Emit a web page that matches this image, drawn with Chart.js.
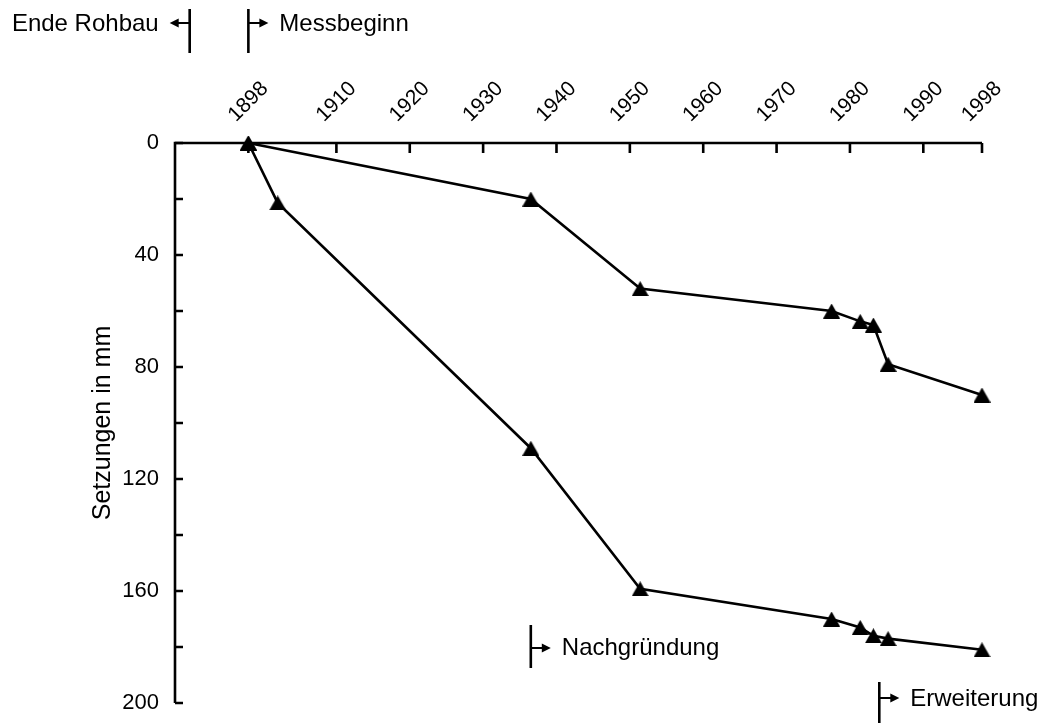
<!DOCTYPE html>
<html>
<head>
<meta charset="utf-8">
<title>Setzungen</title>
<script src="https://cdn.jsdelivr.net/npm/chart.js@4/dist/chart.umd.min.js"></script>
<style>
  html, body { margin: 0; padding: 0; background: #fff; }
  #wrap { width: 1044px; height: 723px; }
</style>
</head>
<body>
<div id="wrap"><canvas id="setzungChart" width="1044" height="723"></canvas></div>
<script>
// Messreihe oben / unten: Jahr der Messung und Setzung in mm
const jahreOben = [1898, 1936.5, 1951.4, 1977.5, 1981.4, 1983.2, 1985.2, 1998];
const setzungOben = [0, 20, 52, 60, 63.7, 65, 79, 90];
const jahreUnten = [1898, 1902, 1936.5, 1951.4, 1977.5, 1981.4, 1983.2, 1985.2, 1998];
const setzungUnten = [0, 21.4, 109, 159.2, 170, 173, 176, 177, 181];

// Achsenbeschriftung
const jahrTicks = [1898, 1910, 1920, 1930, 1940, 1950, 1960, 1970, 1980, 1990, 1998];
const mmTicks = [0, 40, 80, 120, 160, 200];
const mmTicksKlein = [20, 60, 100, 140, 180];

// Ereignisse (Markierung mit Pfeil)
const ereignisse = ["Ende Rohbau", "Messbeginn", "Nachgründung", "Erweiterung"];
const ereignisJahre = [1890, 1898, 1936.5, 1984];

const SCHRIFT = "'Liberation Sans', Arial, Helvetica, sans-serif";
Chart.defaults.font.family = SCHRIFT;
Chart.defaults.color = "#000";

// gefülltes Dreieck als Punktsymbol (auf Bounding-Box zentriert)
function dreieck() {
  const c = document.createElement("canvas");
  const w = 17, h = 15;
  c.width = w; c.height = h;
  const g = c.getContext("2d");
  g.beginPath();
  g.moveTo(w / 2, 0);
  g.lineTo(w, h);
  g.lineTo(0, h);
  g.closePath();
  g.fillStyle = "#000";
  g.fill();
  return c;
}
const symbol = dreieck();

function punkte(jahre, werte) {
  return jahre.map((j, i) => ({ x: j, y: werte[i] }));
}

function reihe(daten) {
  return {
    data: daten,
    borderColor: "#000",
    borderWidth: 2.6,
    pointStyle: symbol,
    tension: 0,
    fill: false,
    clip: false
  };
}

function pfeil(ctx, x0, x1, y) {
  const dir = Math.sign(x1 - x0);
  ctx.lineWidth = 2;
  ctx.beginPath();
  ctx.moveTo(x0, y);
  ctx.lineTo(x1 - dir * 6, y);
  ctx.stroke();
  ctx.beginPath();
  ctx.moveTo(x1, y);
  ctx.lineTo(x1 - dir * 9, y - 4.5);
  ctx.lineTo(x1 - dir * 9, y + 4.5);
  ctx.closePath();
  ctx.fill();
}

// Lage der Ereignis-Markierungen (Strich oben/unten, Pfeilhöhe, Grundlinie Text, Richtung)
const ereignisLage = [
  { y0: 9, y1: 53, ya: 23, yt: 31, dir: -1 },
  { y0: 9, y1: 53, ya: 23, yt: 31, dir: 1 },
  { y0: 625, y1: 668, ya: 648, yt: 655, dir: 1 },
  { y0: 682, y1: 726, ya: 698, yt: 706, dir: 1 }
];

const achsenPlugin = {
  id: "achsen",
  beforeDatasetsDraw(chart) {
    const { ctx, chartArea, scales: { x, y } } = chart;
    ctx.save();
    ctx.strokeStyle = "#000";
    ctx.lineWidth = 2.6;
    ctx.lineJoin = "miter";
    // Achsenlinien links und oben
    ctx.beginPath();
    ctx.moveTo(chartArea.left, chartArea.bottom);
    ctx.lineTo(chartArea.left, chartArea.top);
    ctx.lineTo(chartArea.right, chartArea.top);
    ctx.stroke();
    // Teilstriche nach innen
    ctx.beginPath();
    jahrTicks.forEach(j => {
      const px = x.getPixelForValue(j);
      ctx.moveTo(px, chartArea.top);
      ctx.lineTo(px, chartArea.top + 10);
    });
    mmTicks.concat(mmTicksKlein).forEach(v => {
      const py = y.getPixelForValue(v);
      ctx.moveTo(chartArea.left, py);
      ctx.lineTo(chartArea.left + 8, py);
    });
    ctx.stroke();
    ctx.restore();
  },
  afterDraw(chart) {
    const { ctx, scales: { x } } = chart;
    ctx.save();
    ctx.fillStyle = "#000";
    ctx.strokeStyle = "#000";
    // Jahreszahlen schräg über der Achse
    ctx.font = "21px " + SCHRIFT;
    ctx.textAlign = "center";
    ctx.textBaseline = "middle";
    jahrTicks.forEach(j => {
      ctx.save();
      ctx.translate(x.getPixelForValue(j), 102);
      ctx.rotate(-Math.PI / 4);
      ctx.fillText(String(j), 0, 0);
      ctx.restore();
    });
    // Ereignisse
    ctx.font = "24px " + SCHRIFT;
    ctx.textBaseline = "alphabetic";
    ereignisse.forEach((txt, i) => {
      const l = ereignisLage[i];
      const px = x.getPixelForValue(ereignisJahre[i]);
      ctx.lineWidth = 2.6;
      ctx.beginPath();
      ctx.moveTo(px, l.y0);
      ctx.lineTo(px, l.y1);
      ctx.stroke();
      pfeil(ctx, px, px + l.dir * 20, l.ya);
      ctx.textAlign = l.dir < 0 ? "right" : "left";
      ctx.fillText(txt, px + l.dir * 31, l.yt);
    });
    ctx.restore();
  }
};

new Chart(document.getElementById("setzungChart"), {
  type: "line",
  data: {
    datasets: [
      reihe(punkte(jahreOben, setzungOben)),
      reihe(punkte(jahreUnten, setzungUnten))
    ]
  },
  options: {
    responsive: false,
    animation: false,
    events: [],
    devicePixelRatio: 1,
    layout: { padding: { left: 0, top: 0, right: 62, bottom: 20 } },
    plugins: {
      legend: { display: false },
      tooltip: { enabled: false }
    },
    scales: {
      x: {
        type: "linear",
        position: "top",
        min: 1888,
        max: 1998,
        grid: { display: false, drawTicks: false },
        border: { display: false },
        ticks: { display: false },
        afterFit(scale) {
          scale.height = 143;
          scale.paddingLeft = 0;
          scale.paddingRight = 0;
        }
      },
      y: {
        type: "linear",
        reverse: true,
        min: 0,
        max: 200,
        grid: { display: false, drawTicks: false },
        border: { display: false },
        afterBuildTicks(scale) { scale.ticks = mmTicks.map(v => ({ value: v })); },
        ticks: { font: { size: 22 }, padding: 16, color: "#000" },
        title: {
          display: true,
          text: "Setzungen in mm",
          font: { size: 25 },
          color: "#000",
          padding: { top: 88, bottom: 0 }
        },
        afterFit(scale) {
          scale.width = 175;
          scale.paddingTop = 0;
          scale.paddingBottom = 0;
        }
      }
    }
  },
  plugins: [achsenPlugin]
});
</script>
</body>
</html>
